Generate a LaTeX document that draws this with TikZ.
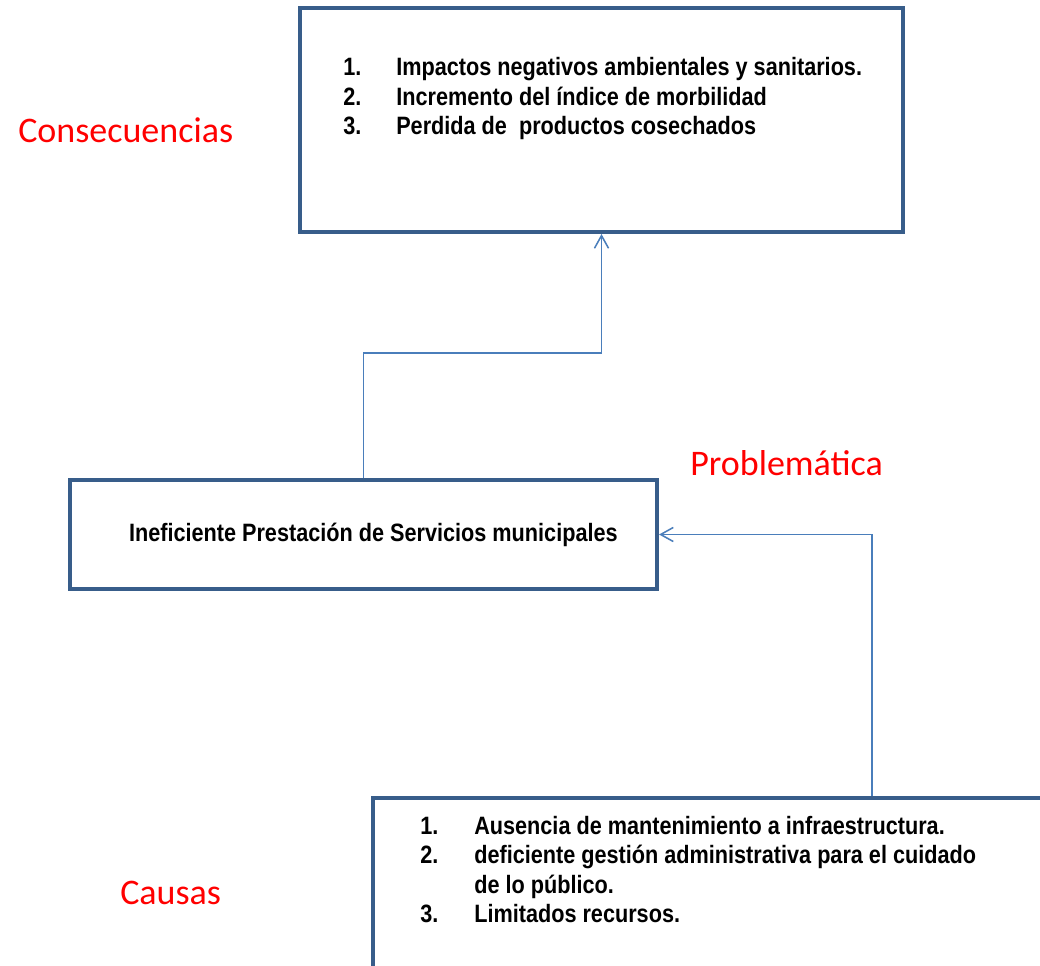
\documentclass[tikz,border=0pt]{standalone}
\usepackage{fontspec}
\usepackage{graphicx}
\setmainfont{Liberation Sans}
\newfontfamily\rotulo{Carlito}
\usetikzlibrary{arrows.meta,positioning}
\definecolor{borde}{HTML}{385D8A}
\definecolor{linea}{HTML}{4A7EBB}
\newcommand{\alto}[1]{\scalebox{1}[1.16]{#1}}
\tikzset{
  caja/.style={draw=borde,line width=2.8pt,rectangle,inner sep=0pt},
  lista/.style={anchor=west,inner sep=0pt,font=\fontsize{15.4}{18.1}\selectfont\bfseries},
  rotulo/.style={anchor=west,inner sep=0pt,text=red,font=\fontsize{25.6}{30}\selectfont\rotulo},
  flecha/.style={linea,line width=1.1pt,-{Straight Barb[length=9pt,width=10pt,line width=1.1pt]}}
}
\begin{document}
\begin{tikzpicture}[x=0.025cm,y=-0.025cm]
  \clip (0,0) rectangle (1040,966);
  \fill[white] (0,0) rectangle (1040,966);
  % cajas
  \node[caja,minimum width=15.075cm,minimum height=5.6cm] (cons) at (601.5,120) {};
  \node[caja,minimum width=14.675cm,minimum height=2.725cm,
        font=\fontsize{15.4}{21}\selectfont\bfseries] (prob) at (363.5,534.5)
        {\hspace*{14pt}\alto{Ineficiente Prestación de Servicios municipales}};
  \node[caja,minimum width=17.175cm,minimum height=4.8cm] (caus) at (716.5,894) {};
  % textos de las cajas
  \node[lista] (lcons) at (343,99.5) {\alto{%
    \begin{tabular}{@{}p{37.7pt}@{}l@{}}
      1. & Impactos negativos ambientales y sanitarios.\\
      2. & Incremento del índice de morbilidad\\
      3. & Perdida de\ \ productos cosechados
    \end{tabular}}};
  \node[lista] (lcaus) at (420,872.5) {\alto{%
    \begin{tabular}{@{}p{38.4pt}@{}l@{}}
      1. & Ausencia de mantenimiento a infraestructura.\\
      2. & deficiente gestión administrativa para el cuidado\\
         & de lo público.\\
      3. & Limitados recursos.
    \end{tabular}}};
  % rotulos
  \node[rotulo] (tcons) at (18,130) {Consecuencias};
  \node[rotulo] (tprob) at (690,463) {Problemática};
  \node[rotulo] (tcaus) at (120,893) {Causas};
  % conectores
  \coordinate (codo) at (872,0);
  \draw[flecha] (prob.north) -- ++(0,-125) -| (cons.south);
  \draw[flecha] (caus.north -| codo) |- (prob.east);
\end{tikzpicture}
\end{document}
